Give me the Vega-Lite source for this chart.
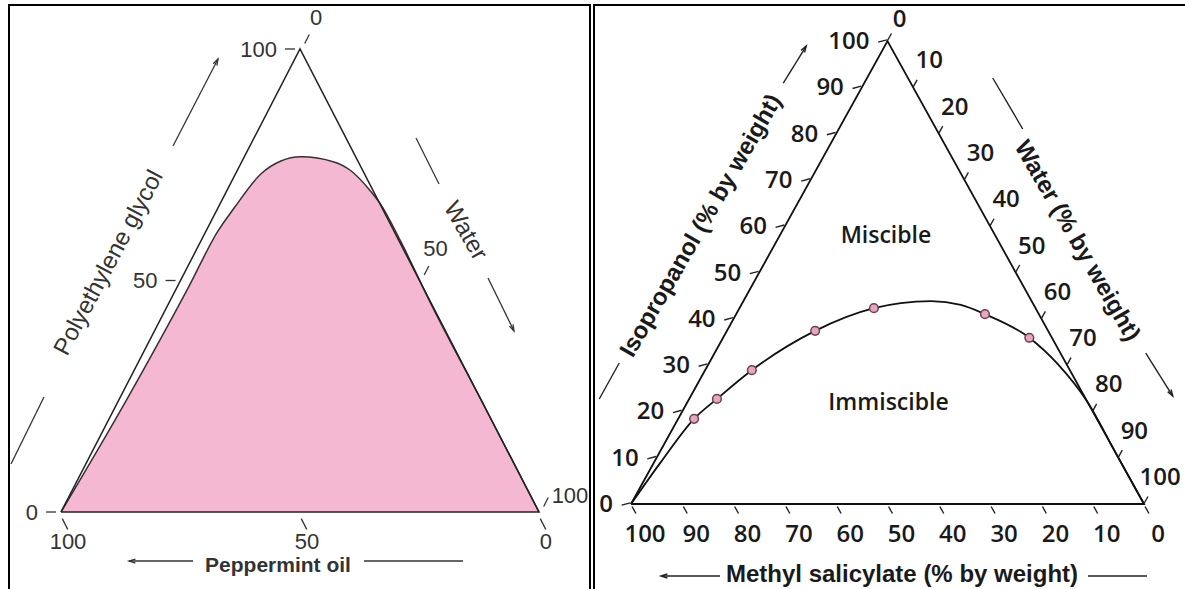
{
  "$schema": "https://vega.github.io/schema/vega-lite/v6.json",
  "padding": {"left": 8, "top": 4, "right": 0, "bottom": 0},
  "spacing": 4,
  "bounds": "flush",
  "background": "white",
  "config": {"view": {"stroke": "#000", "strokeWidth": 2}},
  "datasets": {
    "left_curve": [
      {"peg": 0, "water": 0}, {"peg": 24, "water": 1.6}, {"peg": 48.4, "water": 2.4},
      {"peg": 60.7, "water": 2.5}, {"peg": 65.7, "water": 3.4}, {"peg": 73, "water": 5.3},
      {"peg": 75.8, "water": 8.1}, {"peg": 76.7, "water": 11.8}, {"peg": 75.6, "water": 19.3},
      {"peg": 73.7, "water": 23.8}, {"peg": 70, "water": 29.2}, {"peg": 66.5, "water": 33.6},
      {"peg": 58.5, "water": 41.8}, {"peg": 46.2, "water": 53.7}, {"peg": 23, "water": 77},
      {"peg": 0, "water": 100}
    ],
    "left_tri": [
      {"i": 0, "peg": 0, "water": 0}, {"i": 1, "peg": 100, "water": 0},
      {"i": 2, "peg": 0, "water": 100}, {"i": 3, "peg": 0, "water": 0}
    ],
    "left_ticks": [
      {"edge": "peg", "v": 0}, {"edge": "peg", "v": 50}, {"edge": "peg", "v": 100},
      {"edge": "water", "v": 0}, {"edge": "water", "v": 50}, {"edge": "water", "v": 100},
      {"edge": "oil", "v": 0}, {"edge": "oil", "v": 50}, {"edge": "oil", "v": 100}
    ],
    "left_anchor": [
      {"name": "peg", "peg": 50, "water": 0, "label": "Polyethylene glycol"},
      {"name": "water", "peg": 50, "water": 50, "label": "Water"},
      {"name": "oil", "peg": 0, "water": 50, "label": "Peppermint oil"}
    ],
    "right_curve": [
      {"iso": 0, "water": 0, "m": 0}, {"iso": 9.1, "water": 1.3, "m": 0},
      {"iso": 18.4, "water": 3.1, "m": 1}, {"iso": 22.7, "water": 5.4, "m": 1},
      {"iso": 28.9, "water": 9.1, "m": 1}, {"iso": 37.4, "water": 17.2, "m": 1},
      {"iso": 42.3, "water": 26.2, "m": 1}, {"iso": 43.4, "water": 30.9, "m": 0},
      {"iso": 43.8, "water": 36.6, "m": 0}, {"iso": 43.0, "water": 42.8, "m": 0},
      {"iso": 41.0, "water": 48.5, "m": 1}, {"iso": 35.9, "water": 59.7, "m": 1},
      {"iso": 30.2, "water": 68.1, "m": 0}, {"iso": 22.1, "water": 77.9, "m": 0},
      {"iso": 11, "water": 89, "m": 0}, {"iso": 0, "water": 100, "m": 0}
    ],
    "right_tri": [
      {"i": 0, "iso": 0, "water": 0}, {"i": 1, "iso": 100, "water": 0},
      {"i": 2, "iso": 0, "water": 100}, {"i": 3, "iso": 0, "water": 0}
    ],
    "right_ticks": [
      {"edge": "iso", "v": 0}, {"edge": "iso", "v": 10}, {"edge": "iso", "v": 20}, {"edge": "iso", "v": 30},
      {"edge": "iso", "v": 40}, {"edge": "iso", "v": 50}, {"edge": "iso", "v": 60}, {"edge": "iso", "v": 70},
      {"edge": "iso", "v": 80}, {"edge": "iso", "v": 90}, {"edge": "iso", "v": 100},
      {"edge": "water", "v": 0}, {"edge": "water", "v": 10}, {"edge": "water", "v": 20}, {"edge": "water", "v": 30},
      {"edge": "water", "v": 40}, {"edge": "water", "v": 50}, {"edge": "water", "v": 60}, {"edge": "water", "v": 70},
      {"edge": "water", "v": 80}, {"edge": "water", "v": 90}, {"edge": "water", "v": 100},
      {"edge": "ms", "v": 0}, {"edge": "ms", "v": 10}, {"edge": "ms", "v": 20}, {"edge": "ms", "v": 30},
      {"edge": "ms", "v": 40}, {"edge": "ms", "v": 50}, {"edge": "ms", "v": 60}, {"edge": "ms", "v": 70},
      {"edge": "ms", "v": 80}, {"edge": "ms", "v": 90}, {"edge": "ms", "v": 100}
    ],
    "right_anchor": [
      {"name": "iso", "iso": 50, "water": 0, "label": "Isopropanol  (% by weight)"},
      {"name": "water", "iso": 50, "water": 50, "label": "Water  (% by weight)"},
      {"name": "ms", "iso": 0, "water": 50, "label": "Methyl salicylate  (% by weight)"}
    ],
    "right_regions": [
      {"iso": 57.9, "water": 20.75, "label": "Miscible"},
      {"iso": 21.8, "water": 39.3, "label": "Immiscible"}
    ]
  },
  "hconcat": [
    {
      "width": 581,
      "height": 586,
      "encoding": {
        "x": {"field": "x", "type": "quantitative", "scale": {"domain": [-10.88, 110.67], "nice": false, "zero": false}, "axis": null},
        "y": {"field": "y", "type": "quantitative", "scale": {"domain": [-17.06, 109.5], "nice": false, "zero": false}, "axis": null}
      },
      "layer": [
        {
          "data": {"name": "left_curve"},
          "transform": [
            {"calculate": "datum.water + datum.peg / 2", "as": "x"},
            {"calculate": "datum.peg", "as": "y"}
          ],
          "layer": [
            {"mark": {"type": "area", "color": "#f4b8d2", "interpolate": "monotone", "opacity": 1}, "encoding": {"y2": {"datum": 0}}},
            {"mark": {"type": "line", "color": "#3a2e33", "strokeWidth": 1.5, "interpolate": "monotone"}, "encoding": {}}
          ]
        },
        {
          "data": {"name": "left_tri"},
          "transform": [
            {"calculate": "datum.water + datum.peg / 2", "as": "x"},
            {"calculate": "datum.peg", "as": "y"}
          ],
          "mark": {"type": "line", "color": "#222", "strokeWidth": 1.5},
          "encoding": {"order": {"field": "i", "type": "quantitative"}}
        },
        {
          "data": {"name": "left_ticks"},
          "transform": [
            {"calculate": "datum.edge === 'peg' ? datum.v / 2 : datum.edge === 'water' ? 50 + datum.v / 2 : 100 - datum.v", "as": "x"},
            {"calculate": "datum.edge === 'peg' ? datum.v : datum.edge === 'water' ? 100 - datum.v : 0", "as": "y"}
          ],
          "layer": [
            {"transform": [{"filter": "datum.edge === 'peg'"}],
             "mark": {"type": "point", "shape": "stroke", "size": 100, "filled": false, "opacity": 1, "color": "#333", "strokeWidth": 1.3, "xOffset": -10}},
            {"transform": [{"filter": "datum.edge === 'water'"}],
             "mark": {"type": "point", "shape": "stroke", "size": 100, "filled": false, "opacity": 1, "color": "#333", "strokeWidth": 1.3, "angle": -63, "xOffset": 7, "yOffset": -10}},
            {"transform": [{"filter": "datum.edge === 'oil'"}],
             "mark": {"type": "point", "shape": "stroke", "size": 144, "filled": false, "opacity": 1, "color": "#333", "strokeWidth": 1.3, "angle": 63, "xOffset": 4, "yOffset": 12}},
            {"transform": [{"filter": "datum.edge === 'peg'"}],
             "mark": {"type": "text", "font": "Liberation Sans", "fontSize": 22, "color": "#333", "align": "right", "baseline": "middle", "dx": -23, "dy": 1},
             "encoding": {"text": {"field": "v", "type": "nominal"}}},
            {"transform": [{"filter": "datum.edge === 'water' && datum.v < 100"}],
             "mark": {"type": "text", "font": "Liberation Sans", "fontSize": 22, "color": "#333", "align": "center", "baseline": "middle", "dx": 16, "dy": -31},
             "encoding": {"text": {"field": "v", "type": "nominal"}}},
            {"transform": [{"filter": "datum.edge === 'water' && datum.v === 100"}],
             "mark": {"type": "text", "font": "Liberation Sans", "fontSize": 22, "color": "#333", "align": "center", "baseline": "middle", "dx": 31, "dy": -16},
             "encoding": {"text": {"field": "v", "type": "nominal"}}},
            {"transform": [{"filter": "datum.edge === 'oil'"}],
             "mark": {"type": "text", "font": "Liberation Sans", "fontSize": 22, "color": "#333", "align": "center", "baseline": "middle", "dx": 7, "dy": 30},
             "encoding": {"text": {"field": "v", "type": "nominal"}}}
          ]
        },
        {
          "data": {"name": "left_anchor"},
          "transform": [
            {"calculate": "datum.water + datum.peg / 2", "as": "x"},
            {"calculate": "datum.peg", "as": "y"}
          ],
          "layer": [
            {"transform": [{"filter": "datum.name === 'peg'"}],
             "layer": [
               {"mark": {"type": "text", "font": "Liberation Sans", "fontSize": 24, "color": "#333", "align": "center", "baseline": "middle", "angle": -62, "xOffset": -71.5, "yOffset": -17.5},
                "encoding": {"text": {"field": "label"}}},
               {"mark": {"type": "rule", "color": "#333", "strokeWidth": 1.3, "xOffset": -7.5, "yOffset": -134.5, "x2Offset": 37.5, "y2Offset": -221.5},
                "encoding": {"x2": {"field": "x"}, "y2": {"field": "y"}}},
               {"mark": {"type": "rule", "color": "#333", "strokeWidth": 1.3, "xOffset": -169.5, "yOffset": 183.5, "x2Offset": -136.5, "y2Offset": 116.5},
                "encoding": {"x2": {"field": "x"}, "y2": {"field": "y"}}},
               {"mark": {"type": "point", "shape": "M-0.5,1.6L0,0L0.5,1.6", "size": 64, "filled": false, "opacity": 1, "color": "#333", "strokeWidth": 1.3, "angle": 27, "xOffset": 37.5, "yOffset": -221.5}}
             ]},
            {"transform": [{"filter": "datum.name === 'water'"}],
             "layer": [
               {"mark": {"type": "text", "font": "Liberation Sans", "fontSize": 24, "color": "#333", "align": "center", "baseline": "middle", "angle": 60, "xOffset": 45.5, "yOffset": -49.5},
                "encoding": {"text": {"field": "label"}}},
               {"mark": {"type": "rule", "color": "#333", "strokeWidth": 1.3, "xOffset": -3.5, "yOffset": -142.5, "x2Offset": 19.5, "y2Offset": -96.5},
                "encoding": {"x2": {"field": "x"}, "y2": {"field": "y"}}},
               {"mark": {"type": "rule", "color": "#333", "strokeWidth": 1.3, "xOffset": 68.5, "yOffset": -2.5, "x2Offset": 94.5, "y2Offset": 50.5},
                "encoding": {"x2": {"field": "x"}, "y2": {"field": "y"}}},
               {"mark": {"type": "point", "shape": "M-0.5,1.6L0,0L0.5,1.6", "size": 64, "filled": false, "opacity": 1, "color": "#333", "strokeWidth": 1.3, "angle": 154, "xOffset": 94.5, "yOffset": 50.5}}
             ]},
            {"transform": [{"filter": "datum.name === 'oil'"}],
             "layer": [
               {"mark": {"type": "text", "font": "Liberation Sans", "fontSize": 21, "fontWeight": "bold", "color": "#333", "align": "center", "baseline": "middle", "xOffset": -22, "yOffset": 54},
                "encoding": {"text": {"field": "label"}}},
               {"mark": {"type": "rule", "color": "#333", "strokeWidth": 1.3, "xOffset": -107, "yOffset": 49, "x2Offset": -171, "y2Offset": 49},
                "encoding": {"x2": {"field": "x"}, "y2": {"field": "y"}}},
               {"mark": {"type": "rule", "color": "#333", "strokeWidth": 1.3, "xOffset": 64, "yOffset": 49, "x2Offset": 163, "y2Offset": 49},
                "encoding": {"x2": {"field": "x"}, "y2": {"field": "y"}}},
               {"mark": {"type": "point", "shape": "M-0.5,1.6L0,0L0.5,1.6", "size": 64, "filled": false, "opacity": 1, "color": "#333", "strokeWidth": 1.3, "angle": -90, "xOffset": -171, "yOffset": 49}}
             ]}
          ]
        }
      ]
    },
    {
      "width": 593,
      "height": 586,
      "encoding": {
        "x": {"field": "x", "type": "quantitative", "scale": {"domain": [-7.21, 108.38], "nice": false, "zero": false}, "axis": null},
        "y": {"field": "y", "type": "quantitative", "scale": {"domain": [-18.79, 107.78], "nice": false, "zero": false}, "axis": null}
      },
      "layer": [
        {
          "data": {"name": "right_tri"},
          "transform": [
            {"calculate": "datum.water + datum.iso / 2", "as": "x"},
            {"calculate": "datum.iso", "as": "y"}
          ],
          "mark": {"type": "line", "color": "#111", "strokeWidth": 1.8},
          "encoding": {"order": {"field": "i", "type": "quantitative"}}
        },
        {
          "data": {"name": "right_curve"},
          "transform": [
            {"calculate": "datum.water + datum.iso / 2", "as": "x"},
            {"calculate": "datum.iso", "as": "y"}
          ],
          "layer": [
            {"mark": {"type": "line", "color": "#111", "strokeWidth": 1.8, "interpolate": "monotone"}, "encoding": {}},
            {"transform": [{"filter": "datum.m === 1"}],
             "mark": {"type": "point", "shape": "circle", "size": 75, "filled": true, "opacity": 1, "fill": "#e6a6c2", "stroke": "#6b4050", "strokeWidth": 1.5}}
          ]
        },
        {
          "data": {"name": "right_ticks"},
          "transform": [
            {"calculate": "datum.edge === 'iso' ? datum.v / 2 : datum.edge === 'water' ? 50 + datum.v / 2 : 100 - datum.v", "as": "x"},
            {"calculate": "datum.edge === 'iso' ? datum.v : datum.edge === 'water' ? 100 - datum.v : 0", "as": "y"}
          ],
          "layer": [
            {"transform": [{"filter": "datum.edge === 'iso'"}],
             "mark": {"type": "point", "shape": "stroke", "size": 81, "filled": false, "opacity": 1, "color": "#222", "strokeWidth": 1.4, "angle": -15, "xOffset": -5}},
            {"transform": [{"filter": "datum.edge === 'water'"}],
             "mark": {"type": "point", "shape": "stroke", "size": 64, "filled": false, "opacity": 1, "color": "#222", "strokeWidth": 1.4, "angle": -61, "xOffset": 2, "yOffset": -4}},
            {"transform": [{"filter": "datum.edge === 'ms'"}],
             "mark": {"type": "point", "shape": "stroke", "size": 64, "filled": false, "opacity": 1, "color": "#222", "strokeWidth": 1.4, "angle": 61, "xOffset": 3, "yOffset": 6}},
            {"transform": [{"filter": "datum.edge === 'iso'"}],
             "mark": {"type": "text", "font": "Open Sans", "fontWeight": 600, "fontSize": 24, "color": "#1a1a1a", "align": "right", "baseline": "middle", "dx": -18, "dy": 1},
             "encoding": {"text": {"field": "v", "type": "nominal"}}},
            {"transform": [{"filter": "datum.edge === 'water' && datum.v > 0"}],
             "mark": {"type": "text", "font": "Open Sans", "fontWeight": 600, "fontSize": 24, "color": "#1a1a1a", "align": "center", "baseline": "middle", "dx": 16, "dy": -26},
             "encoding": {"text": {"field": "v", "type": "nominal"}}},
            {"transform": [{"filter": "datum.edge === 'water' && datum.v === 0"}],
             "mark": {"type": "text", "font": "Open Sans", "fontWeight": 600, "fontSize": 24, "color": "#1a1a1a", "align": "center", "baseline": "middle", "dx": 12, "dy": -21},
             "encoding": {"text": {"field": "v", "type": "nominal"}}},
            {"transform": [{"filter": "datum.edge === 'ms'"}],
             "mark": {"type": "text", "font": "Open Sans", "fontWeight": 600, "fontSize": 24, "color": "#1a1a1a", "align": "center", "baseline": "middle", "dx": 14, "dy": 31},
             "encoding": {"text": {"field": "v", "type": "nominal"}}}
          ]
        },
        {
          "data": {"name": "right_regions"},
          "transform": [
            {"calculate": "datum.water + datum.iso / 2", "as": "x"},
            {"calculate": "datum.iso", "as": "y"}
          ],
          "mark": {"type": "text", "font": "Open Sans", "fontWeight": 600, "fontSize": 23, "color": "#1a1a1a", "align": "center", "baseline": "middle"},
          "encoding": {"text": {"field": "label"}}
        },
        {
          "data": {"name": "right_anchor"},
          "transform": [
            {"calculate": "datum.water + datum.iso / 2", "as": "x"},
            {"calculate": "datum.iso", "as": "y"}
          ],
          "layer": [
            {"transform": [{"filter": "datum.name === 'iso'"}],
             "layer": [
               {"mark": {"type": "text", "font": "Liberation Sans", "fontSize": 24, "fontWeight": "bold", "color": "#1a1a1a", "align": "center", "baseline": "middle", "angle": -60, "xOffset": -58, "yOffset": -46.5},
                "encoding": {"text": {"field": "label"}}},
               {"mark": {"type": "rule", "color": "#222", "strokeWidth": 1.4, "xOffset": -160, "yOffset": 126.5, "x2Offset": -140, "y2Offset": 90.5},
                "encoding": {"x2": {"field": "x"}, "y2": {"field": "y"}}},
               {"mark": {"type": "rule", "color": "#222", "strokeWidth": 1.4, "xOffset": 24, "yOffset": -189.5, "x2Offset": 47, "y2Offset": -226.5},
                "encoding": {"x2": {"field": "x"}, "y2": {"field": "y"}}},
               {"mark": {"type": "point", "shape": "M-0.5,1.6L0,0L0.5,1.6", "size": 64, "filled": false, "opacity": 1, "color": "#222", "strokeWidth": 1.4, "angle": 32, "xOffset": 47, "yOffset": -226.5}}
             ]},
            {"transform": [{"filter": "datum.name === 'water'"}],
             "layer": [
               {"mark": {"type": "text", "font": "Liberation Sans", "fontSize": 24, "fontWeight": "bold", "color": "#1a1a1a", "align": "center", "baseline": "middle", "angle": 60, "xOffset": 61, "yOffset": -31.5},
                "encoding": {"text": {"field": "label"}}},
               {"mark": {"type": "rule", "color": "#222", "strokeWidth": 1.4, "xOffset": -23, "yOffset": -194.5, "x2Offset": 7, "y2Offset": -143.5},
                "encoding": {"x2": {"field": "x"}, "y2": {"field": "y"}}},
               {"mark": {"type": "rule", "color": "#222", "strokeWidth": 1.4, "xOffset": 130, "yOffset": 80.5, "x2Offset": 157, "y2Offset": 123.5},
                "encoding": {"x2": {"field": "x"}, "y2": {"field": "y"}}},
               {"mark": {"type": "point", "shape": "M-0.5,1.6L0,0L0.5,1.6", "size": 64, "filled": false, "opacity": 1, "color": "#222", "strokeWidth": 1.4, "angle": 148, "xOffset": 157, "yOffset": 123.5}}
             ]},
            {"transform": [{"filter": "datum.name === 'ms'"}],
             "layer": [
               {"mark": {"type": "text", "font": "Liberation Sans", "fontSize": 24, "fontWeight": "bold", "color": "#1a1a1a", "align": "center", "baseline": "middle", "xOffset": 14.5, "yOffset": 71},
                "encoding": {"text": {"field": "label"}}},
               {"mark": {"type": "rule", "color": "#222", "strokeWidth": 1.4, "xOffset": -226.5, "yOffset": 72, "x2Offset": -167.5, "y2Offset": 72},
                "encoding": {"x2": {"field": "x"}, "y2": {"field": "y"}}},
               {"mark": {"type": "rule", "color": "#222", "strokeWidth": 1.4, "xOffset": 200.5, "yOffset": 72, "x2Offset": 259.5, "y2Offset": 72},
                "encoding": {"x2": {"field": "x"}, "y2": {"field": "y"}}},
               {"mark": {"type": "point", "shape": "M-0.5,1.6L0,0L0.5,1.6", "size": 64, "filled": false, "opacity": 1, "color": "#222", "strokeWidth": 1.4, "angle": -90, "xOffset": -226.5, "yOffset": 72}}
             ]}
          ]
        }
      ]
    }
  ]
}
